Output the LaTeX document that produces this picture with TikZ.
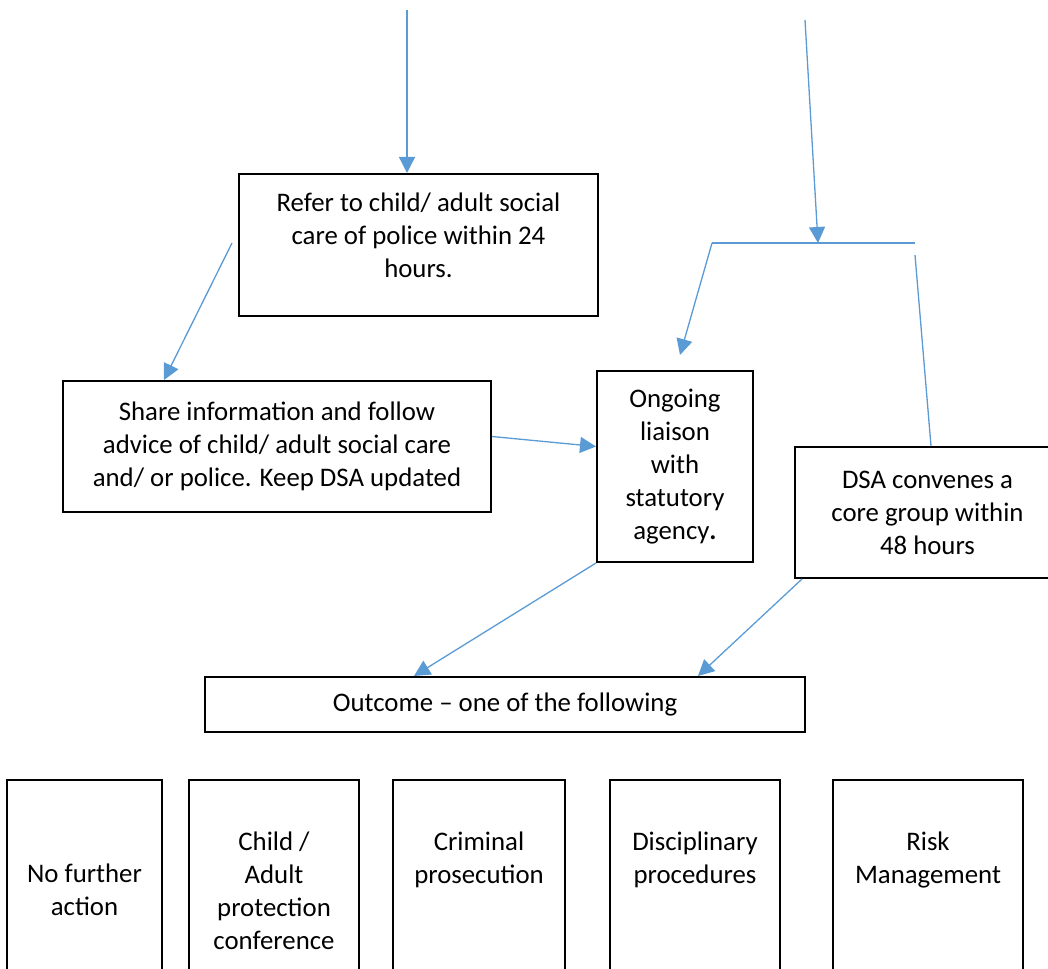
\documentclass[tikz,border=0pt]{standalone}
\usepackage{fontspec}
\setmainfont{Carlito}
\usetikzlibrary{arrows.meta,positioning}
\definecolor{flowblue}{RGB}{91,155,213}
\tikzset{
	box/.style={draw, line width=1pt, align=center, inner sep=2pt},
	boxtext/.style={align=center, inner sep=0pt},
	link/.style={flowblue, line width=0.65pt},
	tip/.style={link, -{Triangle[length=8pt,width=8pt]}},
}

\begin{document}
\begin{tikzpicture}[x=0.5pt, y=-0.5pt, font=\fontsize{13.4}{16.5}\selectfont]
	\clip (0,0) rectangle (1048,968);

	% upper part
	\node[box, minimum width=179.5pt, minimum height=71pt] (refer) at (418.5,245)
		{Refer to child/ adult social\\care of police within 24\\hours.\\[-7pt]\mbox{}};
	\node[box, minimum width=214pt, minimum height=65.5pt] (share) at (277,446.5)
		{Share information and follow\\advice of child/ adult social care\\and/ or police. Keep DSA updated};
	\node[box, minimum width=78pt, minimum height=95.5pt] (liaison) at (675,466.5)
		{Ongoing\\liaison\\with\\statutory\\agency\textbf{.}};
	\node[box, minimum width=132.5pt, minimum height=65.5pt] (core) at (927.5,512.5)
		{DSA convenes a\hspace{10pt}\\core group within\hspace{10pt}\\48 hours\hspace{10pt}};
	\node[box, minimum width=300pt, minimum height=27.5pt] (outcome) at (505,704.5)
		{Outcome -- one of the following};

	% outcome boxes
	\node[box, minimum width=77.5pt, minimum height=110pt] (nfa) at (84.5,890) {};
	\node[box, minimum width=85pt, minimum height=110pt] (conf) at (274,890) {};
	\node[box, minimum width=86pt, minimum height=110pt] (crim) at (479,890) {};
	\node[box, minimum width=85pt, minimum height=110pt] (disc) at (695,890) {};
	\node[box, minimum width=95pt, minimum height=110pt] (risk) at (928,890) {};

	\node[boxtext, below=42pt of nfa.north] (nfatext) {No further\\action};
	\node[boxtext, below=26pt of conf.north] (conftext) {Child /\\Adult\\protection\\conference};
	\node[boxtext, below=26pt of crim.north] (crimtext) {Criminal\\prosecution};
	\node[boxtext, below=26pt of disc.north] (disctext) {Disciplinary\\procedures};
	\node[boxtext, below=26pt of risk.north] (risktext) {Risk\\Management};

	% free ends
	\coordinate (inleft) at (407,10);
	\coordinate (inright) at (805,20);
	\coordinate (barL) at (712,243);
	\coordinate (barM) at (818,243);
	\coordinate (barR) at (915,243);
	\coordinate (forkR) at (915,255);
	\coordinate (forkL) at (680,355);

	\draw[tip] (inleft) -- (inleft |- refer.north);
	\draw[tip] (inright) -- (barM);
	\draw[link] (barL) -- (barR);
	\draw[tip] (barL) -- (forkL);
	\draw[link] (forkR) -- ([xshift=68.5pt]core.north west);
	\draw[tip] ([xshift=-3pt,yshift=1pt]refer.west) -- ([xshift=51pt]share.north west);
	\draw[tip] ([yshift=5pt]share.east) -- ([yshift=10pt]liaison.west);
	\draw[tip] (liaison.south west) -- ([xshift=105pt]outcome.north west);
	\draw[tip] ([xshift=4pt]core.south west) -- ([xshift=-54pt]outcome.north east);
\end{tikzpicture}
\end{document}
